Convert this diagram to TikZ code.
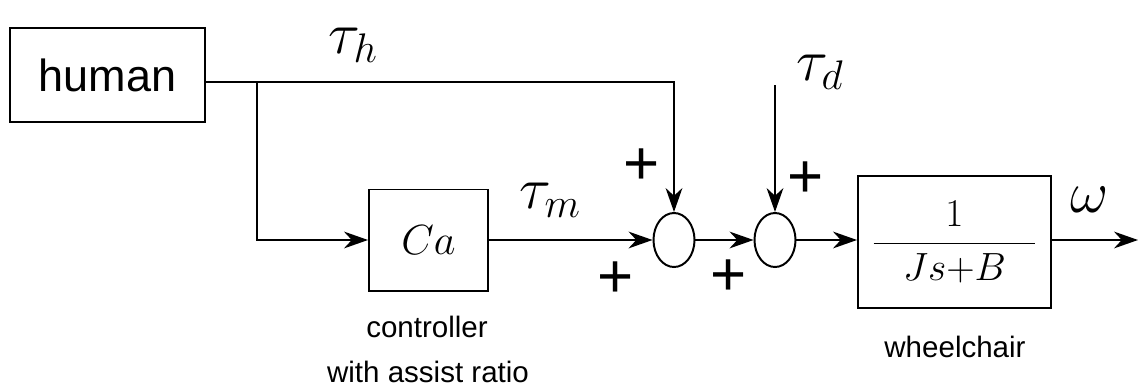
\documentclass[tikz,border=0pt]{standalone}
\usepackage{fix-cm}
\usepackage{fontspec}
\setsansfont{Liberation Sans}
\usetikzlibrary{arrows.meta,shapes.geometric}

\begin{document}
\begin{tikzpicture}[x=0.025cm, y=-0.025cm, >={Stealth[length=0.6cm, width=0.42cm]}, line width=1.2pt,
    block/.style={draw, line width=1.4pt, inner sep=0pt},
    sumnode/.style={draw, ellipse, line width=1.4pt, inner sep=0pt, minimum width=1.025cm, minimum height=1.35cm},
    caption/.style={font=\sffamily\fontsize{21}{25}\selectfont},
    sign/.style={font=\sffamily\fontsize{44}{50}\selectfont},
    signal/.style={font=\fontsize{42}{50}\selectfont}]

    \useasboundingbox (0,0) rectangle (1138,388);

    % ========== Blocks ==========
    \node[block, minimum width=4.875cm, minimum height=2.35cm, font=\sffamily\fontsize{32}{38}\selectfont] (human) at (107.5,75) {human};
    \node[block, minimum width=2.975cm, minimum height=2.525cm, font=\fontsize{30}{36}\selectfont] (ctrl) at (428.5,240) {$Ca$};
    \node[sumnode] (sumA) at (674,240) {};
    \node[sumnode] (sumB) at (775,240) {};
    \node[block, minimum width=4.825cm, minimum height=3.3cm, font=\fontsize{28}{34}\selectfont] (plant) at (954.5,242)
        {$\displaystyle\frac{1}{\hspace{0.75em}Js{+}B\hspace{0.75em}}$};

    % ========== Free ends ==========
    \coordinate (branch) at (257,82);
    \coordinate (tdin) at (775,85);
    \coordinate (out) at (1138,240);

    % ========== Connectors ==========
    \draw[->] ([yshift=-0.175cm]human.east) -| (sumA.north);
    \draw[->] (branch) |- (ctrl.west);
    \draw[->] (ctrl.east) -- (sumA.west);
    \draw[->] (sumA.east) -- (sumB.west);
    \draw[->] (tdin) -- (sumB.north);
    \draw[->] (sumB.east) -- (plant.west |- sumB);
    \draw[->] (plant.east |- out) -- (out);

    % ========== Signals ==========
    \node[signal] (tauh) at (353,45) {$\tau_h$};
    \node[signal] (taum) at (550,200) {$\tau_m$};
    \node[signal] (taud) at (820,72) {$\tau_d$};
    \node[signal] (omega) at (1090,200) {$\omega$};

    % signs at the summing points
    \node[sign] (pA1) at (642,167) {+};
    \node[sign] (pA2) at (616,280) {+};
    \node[sign] (pB1) at (806,180) {+};
    \node[sign] (pB2) at (729,278) {+};

    % ========== Captions ==========
    \node[caption] (capC1) at (427,327) {controller};
    \node[caption] (capC2) at (428,372) {with assist ratio};
    \node[caption] (capW) at (955,347) {wheelchair};

\end{tikzpicture}
\end{document}
